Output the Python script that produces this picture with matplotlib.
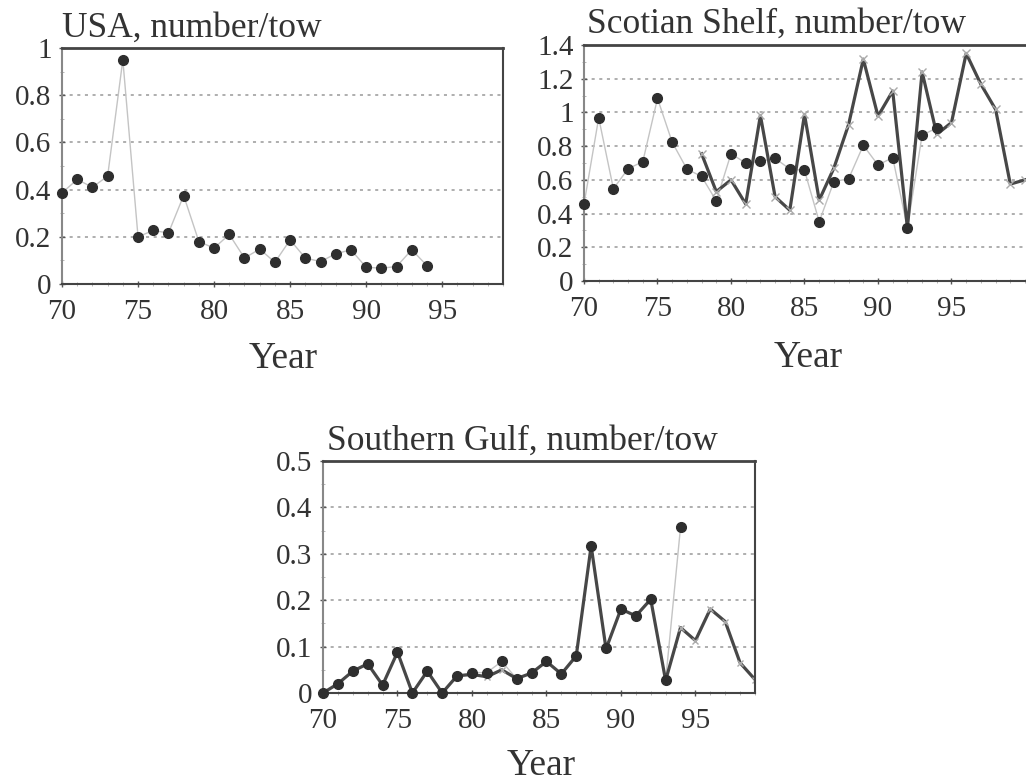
import numpy as np
import matplotlib.pyplot as plt
from matplotlib.ticker import MultipleLocator, FixedLocator

plt.rcParams['font.family'] = ['Liberation Serif', 'DejaVu Serif']

# USA survey, number/tow
usa_years = list(range(70, 95))
usa_circles = [0.386, 0.443, 0.41, 0.457, 0.95, 0.20, 0.227, 0.216, 0.375, 0.18,
               0.152, 0.21, 0.11, 0.148, 0.092, 0.187, 0.11, 0.095, 0.128, 0.145,
               0.071, 0.067, 0.074, 0.145, 0.078]

# Scotian Shelf
ss_years_c = list(range(70, 95))
ss_circles = [0.455, 0.968, 0.547, 0.666, 0.708, 1.083, 0.823, 0.664, 0.62, 0.475,
              0.755, 0.70, 0.71, 0.728, 0.664, 0.656, 0.352, 0.59, 0.606, 0.805,
              0.688, 0.732, 0.316, 0.865, 0.908]
ss_years_x = list(range(78, 101))
ss_crosses = [0.755, 0.53, 0.60, 0.457, 0.982, 0.50, 0.42, 0.988, 0.48, 0.67,
              0.928, 1.316, 0.978, 1.127, 0.316, 1.24, 0.87, 0.94, 1.35, 1.167,
              1.018, 0.575, 0.60]

# Southern Gulf
sg_years_c = list(range(70, 95))
sg_circles = [0.0, 0.02, 0.047, 0.063, 0.017, 0.088, 0.0, 0.047, 0.0, 0.037,
              0.044, 0.044, 0.068, 0.031, 0.043, 0.068, 0.041, 0.08, 0.317, 0.098,
              0.181, 0.166, 0.202, 0.027, 0.357]
sg_years_x = list(range(70, 100))
sg_crosses = [0.0, 0.02, 0.047, 0.063, 0.017, 0.088, 0.0, 0.047, 0.0, 0.037,
              0.04, 0.035, 0.05, 0.031, 0.043, 0.068, 0.041, 0.08, 0.317, 0.095,
              0.181, 0.166, 0.202, 0.027, 0.141, 0.113, 0.181, 0.154, 0.065, 0.029]

xticks = [70, 75, 80, 85, 90, 95]

W, H = 1026, 782
fig = plt.figure(figsize=(W / 100, H / 100), dpi=100)

txt = '#333333'
dot = '#2e2e2e'
thin = '#c4c4c4'
thick = '#474747'


def box(l, t, r, b):
    return [l / W, 1 - b / H, (r - l) / W, (b - t) / H]


def style(ax, ymax, ystep, xmax):
    ax.set_xlim(70, xmax)
    ax.set_ylim(0, ymax)
    ax.xaxis.set_major_locator(FixedLocator(xticks))
    ax.xaxis.set_minor_locator(MultipleLocator(1))
    ax.yaxis.set_major_locator(MultipleLocator(ystep))
    ax.yaxis.set_minor_locator(MultipleLocator(ystep / 2))
    ax.yaxis.set_major_formatter(plt.FuncFormatter(lambda v, p: ('%g' % round(v, 2))))
    ax.grid(axis='y', linestyle=(0, (2, 3)), color='#999999', linewidth=1.1)
    ax.tick_params(axis='both', which='major', labelsize=21, colors='#555555',
                   labelcolor=txt, length=5, direction='inout', width=1)
    ax.tick_params(axis='both', which='minor', length=3, direction='inout',
                   colors='#aaaaaa')
    ax.tick_params(axis='x', pad=8)
    ax.tick_params(axis='y', pad=5)
    for s in ax.spines.values():
        s.set_color('#444444')
        s.set_linewidth(1.5)
    ax.spines['top'].set_linewidth(2)
    ax.spines['left'].set_color('#888888')
    ax.set_axisbelow(True)


def circles(ax, x, y):
    # thin light line under everything, dots on top
    ax.plot(x, y, color=thin, lw=1, zorder=1.5, clip_on=False)
    ax.plot(x, y, ls='none', marker='o', ms=7, mfc=dot, mec=dot,
            zorder=3, clip_on=False)


def crosses(ax, x, y, ms):
    ax.plot(x, y, color=thick, lw=2.3, marker='x', ms=ms,
            mec='#aaaaaa', mew=1, zorder=2)


# USA
ax1 = fig.add_axes(box(62, 48, 503, 284))
circles(ax1, usa_years, usa_circles)
style(ax1, 1, 0.2, 99)
fig.text(62 / W, 1 - 37 / H, 'USA, number/tow', fontsize=25.5, color=txt, va='baseline')
fig.text(283 / W, 1 - 368 / H, 'Year', fontsize=27, color=txt, ha='center', va='baseline')

# Scotian Shelf
ax2 = fig.add_axes(box(584, 45, 584 + 30.5 * 14.7, 281))
circles(ax2, ss_years_c, ss_circles)
crosses(ax2, ss_years_x, ss_crosses, 6)
style(ax2, 1.4, 0.2, 100.5)
fig.text(587 / W, 1 - 33 / H, 'Scotian Shelf, number/tow', fontsize=25.5, color=txt, va='baseline')
fig.text(808 / W, 1 - 367 / H, 'Year', fontsize=27, color=txt, ha='center', va='baseline')

# Southern Gulf
ax3 = fig.add_axes(box(323, 461, 755, 693))
circles(ax3, sg_years_c, sg_circles)
crosses(ax3, sg_years_x, sg_crosses, 5)
style(ax3, 0.5, 0.1, 99)
fig.text(327 / W, 1 - 450 / H, 'Southern Gulf, number/tow', fontsize=25.5, color=txt, va='baseline')
fig.text(541 / W, 1 - 775 / H, 'Year', fontsize=27, color=txt, ha='center', va='baseline')

fig.savefig('out.png', dpi=100)
